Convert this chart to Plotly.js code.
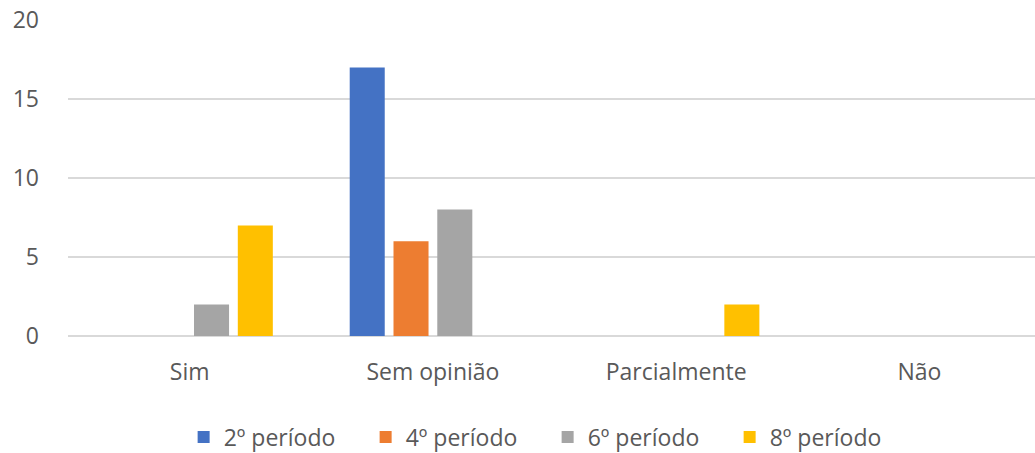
<!DOCTYPE html>
<html>
<head>
<meta charset="utf-8">
<script src="https://cdn.plot.ly/plotly-3.0.1.min.js"></script>
<style>
  html, body { margin: 0; padding: 0; overflow: hidden; background: #fff; }
</style>
</head>
<body>
<div id="chart" style="width:1035px;height:453px;"></div>
<script>
var categories = ['Sim', 'Sem opinião', 'Parcialmente', 'Não'];
var seriesNames = ['2º período', '4º período', '6º período', '8º período'];
var periodo2 = [0, 17, 0, 0];
var periodo4 = [0, 6, 0, 0];
var periodo6 = [2, 8, 0, 0];
var periodo8 = [7, 0, 2, 0];
var colors = ['#4472C4', '#ED7D31', '#A5A5A5', '#FFC000'];

var values = [periodo2, periodo4, periodo6, periodo8];
var data = values.map(function (v, i) {
    return {
        x: categories,
        y: v,
        name: seriesNames[i],
        type: 'bar',
        marker: {color: colors[i]}
    };
});

var fam = '"Open Sans", "Noto Sans", sans-serif';
var font = {family: fam, size: 23, color: '#595959'};

var layout = {
    width: 1035,
    height: 453,
    margin: {l: 68, r: 0, t: 20, b: 117, autoexpand: false},
    paper_bgcolor: '#fff',
    plot_bgcolor: '#fff',
    font: font,
    barmode: 'group',
    bargap: 0.28,
    bargroupgap: 0.2,
    showlegend: true,
    legend: {
        orientation: 'h',
        x: 0.496,
        xanchor: 'center',
        y: -0.32,
        yanchor: 'middle',
        font: font,
        itemwidth: 30,
        entrywidth: 137,
        entrywidthmode: 'pixels'
    },
    xaxis: {
        type: 'category',
        range: [-0.5, 3.475],
        showgrid: false,
        zeroline: false,
        showline: false,
        ticks: '',
        ticklabelstandoff: 20,
        tickfont: font
    },
    yaxis: {
        range: [0, 20],
        tickvals: [0, 5, 10, 15, 20],
        showgrid: true,
        gridcolor: '#d9d9d9',
        gridwidth: 1.5,
        zeroline: true,
        zerolinecolor: '#d9d9d9',
        zerolinewidth: 1.5,
        showline: false,
        ticks: '',
        ticklabelstandoff: 28,
        tickfont: {family: fam, size: 23, color: '#595959'}
    }
};

Plotly.newPlot('chart', data, layout, {displayModeBar: false, staticPlot: true});
</script>
</body>
</html>
